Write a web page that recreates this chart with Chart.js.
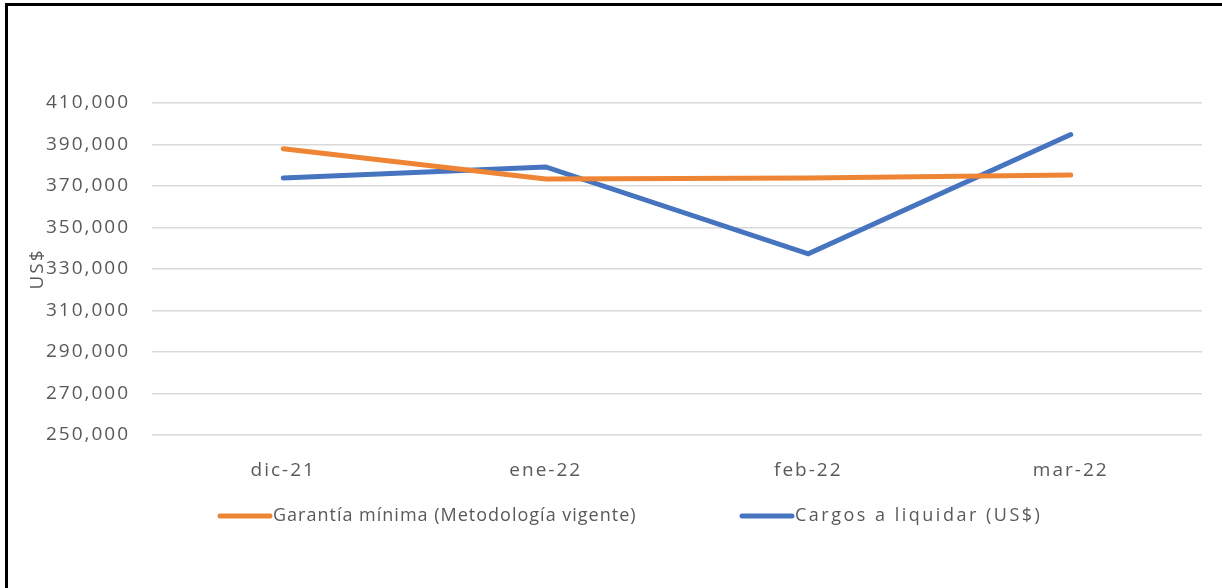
<!DOCTYPE html>
<html>
<head>
<meta charset="utf-8">
<script src="https://cdn.jsdelivr.net/npm/chart.js@4.4.1/dist/chart.umd.min.js"></script>
<style>
  html, body { margin: 0; padding: 0; background: #fff; }
  #frame {
    position: absolute; left: 5px; top: 3px; width: 1300px; height: 700px;
    border-left: 3px solid #000; border-top: 3px solid #000;
  }
  #wrap { position: absolute; left: 0; top: 0; width: 1222px; height: 588px; }
</style>
</head>
<body>
<div id="frame"></div>
<div id="wrap"><canvas id="chart" width="1222" height="588"></canvas></div>
<script>
const months = ["dic-21", "ene-22", "feb-22", "mar-22"];
const garantiaMinima = [388000, 373400, 373800, 375300];
const cargosLiquidar = [373900, 379200, 337300, 394800];
const seriesNames = ["Garantía mínima (Metodología vigente)", "Cargos a liquidar (US$)"];
const yTicks = [250000, 270000, 290000, 310000, 330000, 350000, 370000, 390000, 410000];

const gray = "#595959";
const fontFamily = "'Open Sans', 'Noto Sans', sans-serif";

// texto un poco mas ancho, como en el original
const wideText = {
  id: "wideText",
  beforeDraw(chart) {
    chart.ctx.letterSpacing = "2px";
  },
};

// leyenda dibujada a mano (los items estan muy separados)
const customLegend = {
  id: "customLegend",
  afterDraw(chart) {
    const ctx = chart.ctx;
    const starts = [218, 740];
    const spacing = ["1px", "2.5px"];
    ctx.save();
    ctx.font = "18px " + fontFamily;
    ctx.textBaseline = "middle";
    chart.data.datasets.forEach((ds, i) => {
      const x = starts[i];
      const y = 516;
      ctx.strokeStyle = ds.borderColor;
      ctx.lineWidth = 5;
      ctx.lineCap = "round";
      ctx.beginPath();
      ctx.moveTo(x + 2, y);
      ctx.lineTo(x + 52, y);
      ctx.stroke();
      ctx.letterSpacing = spacing[i];
      ctx.fillStyle = gray;
      ctx.fillText(ds.label, x + 55, y);
    });
    ctx.restore();
  },
};

const ctx = document.getElementById("chart").getContext("2d");
new Chart(ctx, {
  type: "line",
  data: {
    labels: months,
    datasets: [
      {
        label: seriesNames[0],
        data: garantiaMinima,
        borderColor: "#EE8535",
        backgroundColor: "#EE8535",
        borderWidth: 5,
        borderCapStyle: "round",
        pointRadius: 0,
        tension: 0,
      },
      {
        label: seriesNames[1],
        data: cargosLiquidar,
        borderColor: "#4674BF",
        backgroundColor: "#4674BF",
        borderWidth: 5,
        borderCapStyle: "round",
        pointRadius: 0,
        tension: 0,
      },
    ],
  },
  options: {
    responsive: false,
    animation: false,
    layout: { padding: { left: 26, right: 20, top: 103, bottom: 0 } },
    plugins: {
      legend: { display: false },
      tooltip: { enabled: false },
    },
    scales: {
      x: {
        offset: true,
        grid: { display: false, drawTicks: false },
        border: { display: false },
        ticks: {
          color: gray,
          padding: 24,
          font: { family: fontFamily, size: 19 },
        },
        afterFit: (scale) => { scale.height = 153; },
      },
      y: {
        min: 250000,
        max: 410000,
        afterBuildTicks: (scale) => {
          scale.ticks = yTicks.map((v) => ({ value: v }));
        },
        grid: { color: "#d9d9d9", lineWidth: 1.5, drawTicks: false },
        border: { display: false },
        ticks: {
          color: gray,
          padding: 22,
          font: { family: fontFamily, size: 19 },
          callback: (v) => v.toLocaleString("en-US"),
        },
        title: {
          display: true,
          text: "US$",
          color: gray,
          padding: 0,
          font: { family: fontFamily, size: 19 },
        },
        afterFit: (scale) => { scale.width = 126; },
      },
    },
  },
  plugins: [wideText, customLegend],
});
</script>
</body>
</html>
